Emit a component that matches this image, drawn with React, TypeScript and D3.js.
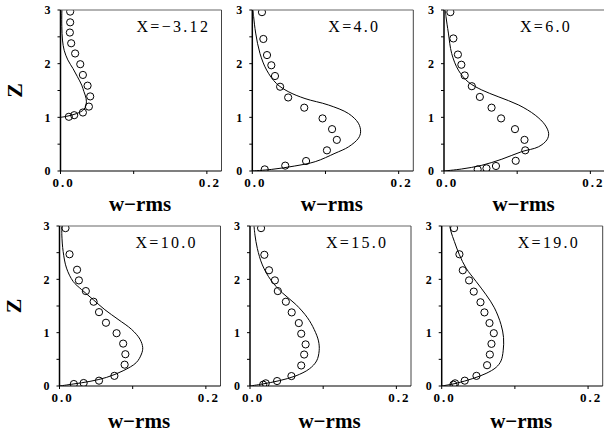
import React from "react";
import * as d3 from "d3";

// ---- data ----
const panelLabels = ["X=−3.12", "X=4.0", "X=6.0", "X=10.0", "X=15.0", "X=19.0"];
const xTickLabels = ["0.0", "0.2"];
const yTickLabels = ["0", "1", "2", "3"];

// measured (circles)
const m1W = [0.0132, 0.0132, 0.0128, 0.0146, 0.02, 0.027, 0.0306, 0.037, 0.0406, 0.0388, 0.0306, 0.0187, 0.0114];
const m1Z = [2.97, 2.77, 2.58, 2.38, 2.19, 1.99, 1.79, 1.59, 1.39, 1.2, 1.09, 1.04, 1.01];
const m2W = [0.0132, 0.0151, 0.0201, 0.026, 0.031, 0.038, 0.049, 0.071, 0.096, 0.109, 0.1155, 0.102, 0.0735, 0.045, 0.017];
const m2Z = [2.96, 2.46, 2.16, 1.97, 1.77, 1.57, 1.37, 1.18, 0.98, 0.78, 0.58, 0.385, 0.186, 0.1, 0.03];
const m3W = [0.0087, 0.0128, 0.019, 0.0237, 0.0283, 0.038, 0.049, 0.065, 0.078, 0.097, 0.11, 0.111, 0.098, 0.071, 0.058, 0.046];
const m3Z = [2.96, 2.47, 2.17, 1.98, 1.78, 1.58, 1.38, 1.18, 0.98, 0.78, 0.58, 0.385, 0.19, 0.093, 0.05, 0.03];
const m4W = [0.0082, 0.0137, 0.024, 0.0265, 0.036, 0.0466, 0.054, 0.0635, 0.078, 0.087, 0.09, 0.089, 0.075, 0.054, 0.033, 0.0196];
const m4Z = [2.96, 2.47, 2.18, 1.98, 1.78, 1.58, 1.385, 1.186, 0.99, 0.795, 0.596, 0.4, 0.19, 0.1, 0.056, 0.037];
const m5W = [0.0151, 0.0196, 0.026, 0.034, 0.038, 0.049, 0.057, 0.0667, 0.07, 0.076, 0.074, 0.07, 0.0566, 0.037, 0.0215, 0.018];
const m5Z = [2.96, 2.46, 2.17, 1.98, 1.78, 1.58, 1.38, 1.18, 0.98, 0.78, 0.59, 0.385, 0.186, 0.093, 0.05, 0.025];
const m6W = [0.0169, 0.0242, 0.0288, 0.0374, 0.0438, 0.053, 0.0584, 0.0653, 0.0712, 0.068, 0.0658, 0.062, 0.0475, 0.0315, 0.0183, 0.016];
const m6Z = [2.96, 2.47, 2.17, 1.98, 1.77, 1.57, 1.38, 1.18, 0.99, 0.79, 0.59, 0.39, 0.19, 0.1, 0.05, 0.025];

// computed (lines)
const c1W = [0, 0.0087, 0.022, 0.0315, 0.035, 0.035, 0.032, 0.029, 0.023, 0.017, 0.01, 0.005, 0.0027, 0.0018, 0.0018, 0.002];
const c1Z = [1.0, 1.02, 1.07, 1.14, 1.23, 1.35, 1.48, 1.6, 1.76, 1.91, 2.07, 2.25, 2.44, 2.69, 2.94, 3.0];
const c2W = [0, 0.0265, 0.058, 0.086, 0.113, 0.1315, 0.145, 0.148, 0.145, 0.1315, 0.104, 0.072, 0.049, 0.033, 0.0196, 0.0105, 0.0046, 0.0018, 0.001];
const c2Z = [0, 0.03, 0.093, 0.174, 0.33, 0.45, 0.61, 0.73, 0.89, 1.07, 1.23, 1.35, 1.48, 1.63, 1.88, 2.19, 2.57, 2.88, 3.0];
const c3W = [0, 0.024, 0.0516, 0.079, 0.106, 0.129, 0.1406, 0.143, 0.138, 0.1247, 0.102, 0.074, 0.0516, 0.033, 0.0196, 0.0105, 0.006, 0.0027, 0.0018];
const c3Z = [0, 0.037, 0.106, 0.22, 0.36, 0.45, 0.58, 0.7, 0.86, 1.04, 1.23, 1.385, 1.51, 1.66, 1.88, 2.19, 2.57, 2.88, 3.0];
const c4W = [0, 0.0187, 0.0416, 0.064, 0.087, 0.105, 0.112, 0.1137, 0.11, 0.0986, 0.08, 0.062, 0.046, 0.03, 0.0187, 0.0096, 0.005, 0.0032, 0.0032];
const c4Z = [0, 0.037, 0.087, 0.16, 0.286, 0.44, 0.6, 0.72, 0.876, 1.06, 1.25, 1.43, 1.62, 1.81, 1.96, 2.21, 2.52, 2.83, 3.0];
const c5W = [0, 0.017, 0.04, 0.0626, 0.081, 0.091, 0.0945, 0.0936, 0.0877, 0.0785, 0.0626, 0.0443, 0.0283, 0.0169, 0.01, 0.0068, 0.0055];
const c5Z = [0, 0.037, 0.1, 0.19, 0.32, 0.47, 0.66, 0.845, 1.06, 1.28, 1.53, 1.745, 1.99, 2.27, 2.58, 2.83, 3.0];
const c6W = [0, 0.0196, 0.0425, 0.0607, 0.0744, 0.081, 0.084, 0.0845, 0.081, 0.072, 0.0607, 0.047, 0.0333, 0.0242, 0.0173, 0.0128, 0.011];
const c6Z = [0, 0.05, 0.14, 0.236, 0.35, 0.47, 0.66, 0.91, 1.155, 1.466, 1.71, 1.96, 2.21, 2.46, 2.71, 2.89, 3.0];

const measW = [m1W, m2W, m3W, m4W, m5W, m6W];
const measZ = [m1Z, m2Z, m3Z, m4Z, m5Z, m6Z];
const compW = [c1W, c2W, c3W, c4W, c5W, c6W];
const compZ = [c1Z, c2Z, c3Z, c4Z, c5Z, c6Z];

// ---- layout ----
const W = 604;
const H = 434;
const PW = 161;
const rowTop = [10, 226];
const rowH = [161, 160];
const colLeft = [
  [60.5, 252.3, 444],
  [59.5, 250, 441.7],
];
const serif = "'Liberation Serif', 'Times New Roman', serif";

function Panel({ idx }: { idx: number }) {
  const r = Math.floor(idx / 3);
  const c = idx % 3;
  const left = colLeft[r][c];
  const top = rowTop[r];
  const h = rowH[r];
  const x = d3.scaleLinear().domain([0, 0.22]).range([0, PW]);
  const y = d3.scaleLinear().domain([0, 3]).range([h, 0]);
  const line = d3
    .line<number>()
    .x((d, i) => x(compW[idx][i]))
    .y((d, i) => y(compZ[idx][i]))
    .curve(d3.curveCatmullRom.alpha(0.5));
  const pts = compW[idx].map((_, i) => i);
  const clipId = `clip${idx}`;
  const yTicks = d3.range(0, 3.01, 0.5);
  const xTicks = [0, 0.1, 0.2];
  return (
    <g transform={`translate(${left},${top})`}>
      <defs>
        <clipPath id={clipId}>
          <rect x={0} y={0} width={PW} height={h} />
        </clipPath>
      </defs>
      <g clipPath={`url(#${clipId})`}>
        <path d={line(pts) || ""} fill="none" stroke="#000" strokeWidth={1} />
        {measW[idx].map((w, i) => (
          <circle key={i} cx={x(w)} cy={y(measZ[idx][i])} r={3.6} fill="none" stroke="#000" strokeWidth={1} />
        ))}
      </g>
      {/* frame */}
      <line x1={0} y1={0} x2={PW} y2={0} stroke="#666" strokeWidth={1.2} />
      <line x1={PW} y1={0} x2={PW} y2={h} stroke="#444" strokeWidth={1} />
      <line x1={0} y1={h} x2={PW} y2={h} stroke="#000" strokeWidth={1.2} />
      <line x1={0} y1={0} x2={0} y2={h} stroke="#000" strokeWidth={1.5} />
      {yTicks.map((t) => (
        <line key={t} x1={-3} x2={0} y1={y(t)} y2={y(t)} stroke="#000" strokeWidth={1} />
      ))}
      {xTicks.map((t) => (
        <line key={t} x1={x(t)} x2={x(t)} y1={h} y2={h + 3} stroke="#000" strokeWidth={1} />
      ))}
      {yTickLabels.map((lab, i) => (
        <text key={lab} x={-10} y={y(i)} dy="0.35em" textAnchor="end" fontFamily={serif} fontWeight="bold" fontSize={12}>
          {lab}
        </text>
      ))}
      {xTickLabels.map((lab, i) => (
        <text key={lab} x={x(i * 0.2) + 3} y={h + 15.5} textAnchor="middle" fontFamily={serif} fontWeight="bold" fontSize={13} letterSpacing={2}>
          {lab}
        </text>
      ))}
      <text x={PW / 2 - 1} y={h + (r === 0 ? 40 : 42)} textAnchor="middle" fontFamily={serif} fontWeight="bold" fontSize={21}>
        w−rms
      </text>
      <text x={76} y={22} fontFamily={serif} fontSize={16} letterSpacing={2.3}>
        {panelLabels[idx]}
      </text>
      {c === 0 && (
        <text transform={`translate(${-39},${h / 2}) rotate(-90)`} textAnchor="middle" fontFamily={serif} fontWeight="bold" fontSize={22}>
          Z
        </text>
      )}
    </g>
  );
}

export default function App() {
  return (
    <svg width={W} height={H} style={{ position: "absolute", left: 0, top: 0, background: "#fff" }}>
      <rect x={0} y={0} width={W} height={H} fill="#fff" />
      {[0, 1, 2, 3, 4, 5].map((i) => (
        <Panel key={i} idx={i} />
      ))}
    </svg>
  );
}
